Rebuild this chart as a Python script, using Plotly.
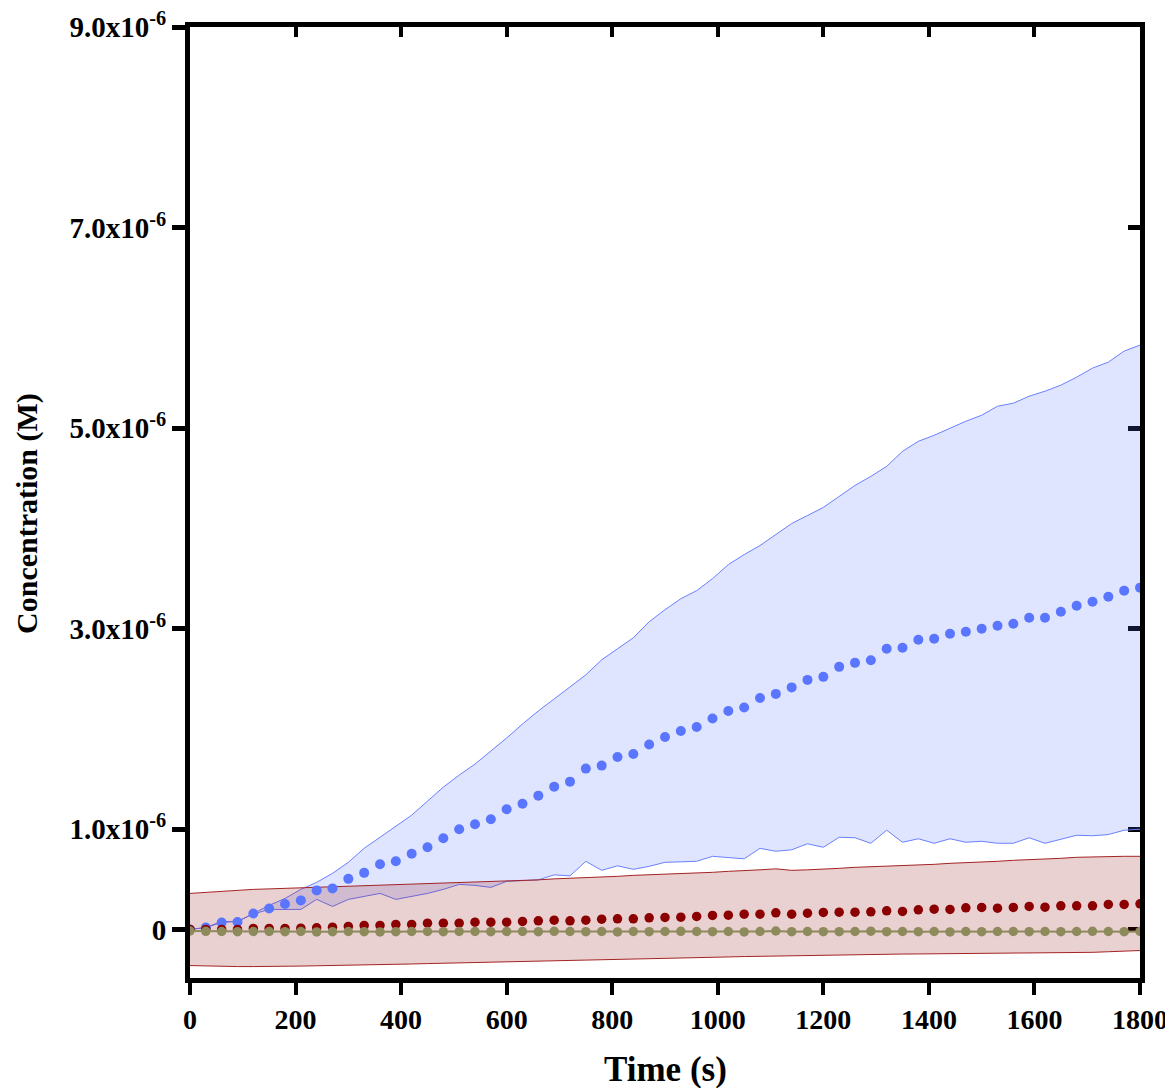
import plotly.graph_objects as go

# Time (s)
time_s = [0, 30, 60, 90, 120, 150, 180, 210, 240, 270, 300, 330, 360, 390, 420, 450, 480, 510,
          540, 570, 600, 630, 660, 690, 720, 750, 780, 810, 840, 870, 900, 930, 960, 990, 1020,
          1050, 1080, 1110, 1140, 1170, 1200, 1230, 1260, 1290, 1320, 1350, 1380, 1410, 1440,
          1470, 1500, 1530, 1560, 1590, 1620, 1650, 1680, 1710, 1740, 1770, 1800]

# Concentrations in units of 1e-6 M
blue_mean = [0.0, 0.02, 0.07, 0.075, 0.16, 0.21, 0.255, 0.29, 0.39, 0.41, 0.505, 0.565, 0.65, 0.68,
             0.755, 0.82, 0.91, 1.0, 1.05, 1.10, 1.20, 1.255, 1.335, 1.425, 1.475, 1.605, 1.635, 1.72,
             1.75, 1.845, 1.92, 1.98, 2.02, 2.105, 2.18, 2.215, 2.31, 2.35, 2.415, 2.49, 2.52, 2.62,
             2.66, 2.685, 2.80, 2.81, 2.89, 2.90, 2.95, 2.97, 3.00, 3.03, 3.05, 3.11, 3.11, 3.17,
             3.23, 3.27, 3.32, 3.38, 3.41]
blue_upper = [0.0, 0.02, 0.07, 0.08, 0.16, 0.24, 0.31, 0.40, 0.47, 0.56, 0.67, 0.81, 0.92, 1.03,
              1.14, 1.28, 1.42, 1.54, 1.65, 1.78, 1.91, 2.05, 2.18, 2.30, 2.42, 2.54, 2.69, 2.80,
              2.91, 3.07, 3.19, 3.30, 3.38, 3.50, 3.64, 3.74, 3.83, 3.94, 4.05, 4.13, 4.21, 4.32,
              4.43, 4.52, 4.62, 4.77, 4.87, 4.93, 5.00, 5.07, 5.13, 5.22, 5.25, 5.32, 5.37, 5.43,
              5.51, 5.60, 5.66, 5.77, 5.83]
blue_lower = [0.0, 0.02, 0.08, 0.08, 0.155, 0.20, 0.20, 0.20, 0.30, 0.23, 0.30, 0.33, 0.36, 0.30,
              0.33, 0.36, 0.40, 0.45, 0.44, 0.42, 0.48, 0.49, 0.495, 0.545, 0.535, 0.68, 0.59, 0.635,
              0.60, 0.63, 0.67, 0.675, 0.68, 0.73, 0.72, 0.705, 0.81, 0.78, 0.795, 0.855, 0.82, 0.92,
              0.915, 0.86, 0.99, 0.87, 0.905, 0.86, 0.905, 0.87, 0.88, 0.86, 0.86, 0.915, 0.86, 0.90,
              0.94, 0.935, 0.947, 0.99, 1.00]

red_mean = [0.0, 0.0, 0.0, 0.0, 0.01, 0.01, 0.01, 0.013, 0.017, 0.023, 0.03, 0.04, 0.04, 0.05,
            0.05, 0.063, 0.063, 0.063, 0.073, 0.073, 0.073, 0.080, 0.086, 0.093, 0.086, 0.093, 0.103,
            0.106, 0.106, 0.116, 0.120, 0.123, 0.130, 0.140, 0.143, 0.153, 0.153, 0.166, 0.153, 0.163,
            0.170, 0.173, 0.173, 0.176, 0.186, 0.180, 0.196, 0.203, 0.200, 0.216, 0.220, 0.213, 0.220,
            0.230, 0.223, 0.236, 0.236, 0.236, 0.250, 0.250, 0.256]
red_upper = [0.36, 0.37, 0.385, 0.395, 0.40, 0.405, 0.41, 0.415, 0.42, 0.425, 0.43, 0.435, 0.44,
             0.445, 0.45, 0.455, 0.46, 0.465, 0.47, 0.475, 0.48, 0.487, 0.495, 0.505, 0.51, 0.52,
             0.525, 0.53, 0.54, 0.545, 0.55, 0.555, 0.56, 0.57, 0.58, 0.585, 0.595, 0.605, 0.59,
             0.595, 0.60, 0.61, 0.62, 0.625, 0.63, 0.64, 0.645, 0.65, 0.66, 0.665, 0.675, 0.68, 0.69,
             0.695, 0.70, 0.71, 0.72, 0.725, 0.73, 0.73, 0.73]
red_lower = [-0.36, -0.365, -0.37, -0.37, -0.37, -0.37, -0.368, -0.365, -0.362, -0.36, -0.357,
             -0.354, -0.35, -0.347, -0.344, -0.34, -0.337, -0.333, -0.33, -0.325, -0.32, -0.317,
             -0.313, -0.31, -0.307, -0.303, -0.30, -0.297, -0.294, -0.29, -0.287, -0.284, -0.28,
             -0.277, -0.274, -0.27, -0.267, -0.264, -0.26, -0.257, -0.254, -0.25, -0.25, -0.248,
             -0.246, -0.245, -0.244, -0.243, -0.242, -0.241, -0.24, -0.24, -0.238, -0.236, -0.235,
             -0.235, -0.232, -0.228, -0.222, -0.216, -0.21]

olive_mean = [-0.015, -0.018, -0.02, -0.022, -0.02, -0.02, -0.022, -0.02, -0.024, -0.022, -0.02,
              -0.022, -0.024, -0.022, -0.02, -0.02, -0.022, -0.02, -0.02, -0.022, -0.02, -0.02,
              -0.022, -0.018, -0.02, -0.022, -0.02, -0.024, -0.02, -0.022, -0.02, -0.018, -0.02,
              -0.022, -0.02, -0.024, -0.02, -0.015, -0.022, -0.02, -0.022, -0.022, -0.02, -0.017,
              -0.022, -0.02, -0.022, -0.02, -0.024, -0.02, -0.022, -0.02, -0.02, -0.022, -0.02,
              -0.022, -0.02, -0.018, -0.02, -0.022, -0.02]

x_ticks = [0, 200, 400, 600, 800, 1000, 1200, 1400, 1600, 1800]
y_ticks = [0, 1, 3, 5, 7, 9]
y_ticktext = ["0", "1.0x10<sup>-6</sup>", "3.0x10<sup>-6</sup>", "5.0x10<sup>-6</sup>",
              "7.0x10<sup>-6</sup>", "9.0x10<sup>-6</sup>"]

FONT = "Liberation Serif, Times New Roman, serif"
BLUE = "rgb(90,118,255)"
BLUE_LINE = "rgb(105,128,255)"
BLUE_FILL = "rgba(90,118,255,0.19)"
RED = "rgb(139,0,0)"
RED_LINE = "rgb(165,35,35)"
RED_FILL = "rgba(139,0,0,0.18)"
OLIVE = "rgb(141,139,92)"

fig = go.Figure()

# Bands on the main subplot (top / right frame axes, drawn below the traces)
fig.add_trace(go.Scatter(x=time_s, y=blue_lower, mode="lines", xaxis="x", yaxis="y",
                         line=dict(color=BLUE_LINE, width=1), showlegend=False, hoverinfo="skip"))
fig.add_trace(go.Scatter(x=time_s, y=blue_upper, mode="lines", fill="tonexty", xaxis="x", yaxis="y",
                         fillcolor=BLUE_FILL, line=dict(color=BLUE_LINE, width=1),
                         showlegend=False, hoverinfo="skip"))
fig.add_trace(go.Scatter(x=time_s, y=red_lower, mode="lines", xaxis="x", yaxis="y",
                         line=dict(color=RED_LINE, width=1), showlegend=False, hoverinfo="skip"))
fig.add_trace(go.Scatter(x=time_s, y=red_upper, mode="lines", fill="tonexty", xaxis="x", yaxis="y",
                         fillcolor=RED_FILL, line=dict(color=RED_LINE, width=1),
                         showlegend=False, hoverinfo="skip"))
# Means on the overlay subplot (bottom / left labelled axes)
fig.add_trace(go.Scatter(x=time_s, y=blue_mean, mode="markers", xaxis="x2", yaxis="y2",
                         marker=dict(color=BLUE, size=10), showlegend=False))
fig.add_trace(go.Scatter(x=time_s, y=red_mean, mode="markers", xaxis="x2", yaxis="y2",
                         marker=dict(color=RED, size=9.5), showlegend=False))
fig.add_trace(go.Scatter(x=time_s, y=olive_mean, mode="lines+markers", xaxis="x2", yaxis="y2",
                         line=dict(color=OLIVE, width=2),
                         marker=dict(color=OLIVE, size=9.5), showlegend=False))

x_range = [0, 1800]
y_range = [-0.484, 9.003]

fig.update_layout(
    width=1165, height=1080,
    margin=dict(l=182, r=33, t=19, b=110),
    paper_bgcolor="white", plot_bgcolor="white",
    font=dict(family=FONT, color="black"),
    # frame axes: top and right, inward ticks, under the fills
    xaxis=dict(range=x_range, tickvals=x_ticks, side="top", anchor="y",
               ticks="inside", ticklen=10, tickwidth=4, tickcolor="black", showline=True,
               linewidth=5, linecolor="black", showgrid=False, zeroline=False,
               showticklabels=False, layer="below traces", automargin=False),
    yaxis=dict(range=y_range, tickvals=y_ticks, side="right", anchor="x",
               ticks="inside", ticklen=12, tickwidth=5, tickcolor="black", showline=True,
               linewidth=5, linecolor="black", showgrid=False, zeroline=False,
               showticklabels=False, layer="below traces", automargin=False),
    # labelled axes: bottom and left
    xaxis2=dict(range=x_range, tickvals=x_ticks, overlaying="x", side="bottom", anchor="y2",
                ticks="outside", ticklen=12, tickwidth=4, tickcolor="black", showline=True,
                linewidth=5, linecolor="black", showgrid=False, zeroline=False,
                tickfont=dict(family=FONT, size=28, color="black", weight="bold"),
                automargin=False, layer="above traces", ticklabeloverflow="allow"),
    yaxis2=dict(range=y_range, tickvals=y_ticks, ticktext=y_ticktext, overlaying="y",
                side="left", anchor="x2", ticks="outside", ticklen=13, tickwidth=5,
                tickcolor="black", showline=True, linewidth=5, linecolor="black",
                showgrid=False, zeroline=False, ticklabeloverflow="allow",
                tickfont=dict(family=FONT, size=29, color="black", weight="bold"),
                automargin=False, layer="above traces"),
    annotations=[
        dict(text="Concentration (M)", xref="paper", yref="paper",
             x=-0.1716, y=0.489, xanchor="center", yanchor="middle",
             textangle=-90, showarrow=False,
             font=dict(family=FONT, size=30, color="black", weight="bold")),
        dict(text="Time (s)", xref="paper", yref="paper",
             x=0.5, y=-0.0967, xanchor="center", yanchor="middle", showarrow=False,
             font=dict(family=FONT, size=35, color="black", weight="bold")),
    ],
)

fig.write_html("out.html")
